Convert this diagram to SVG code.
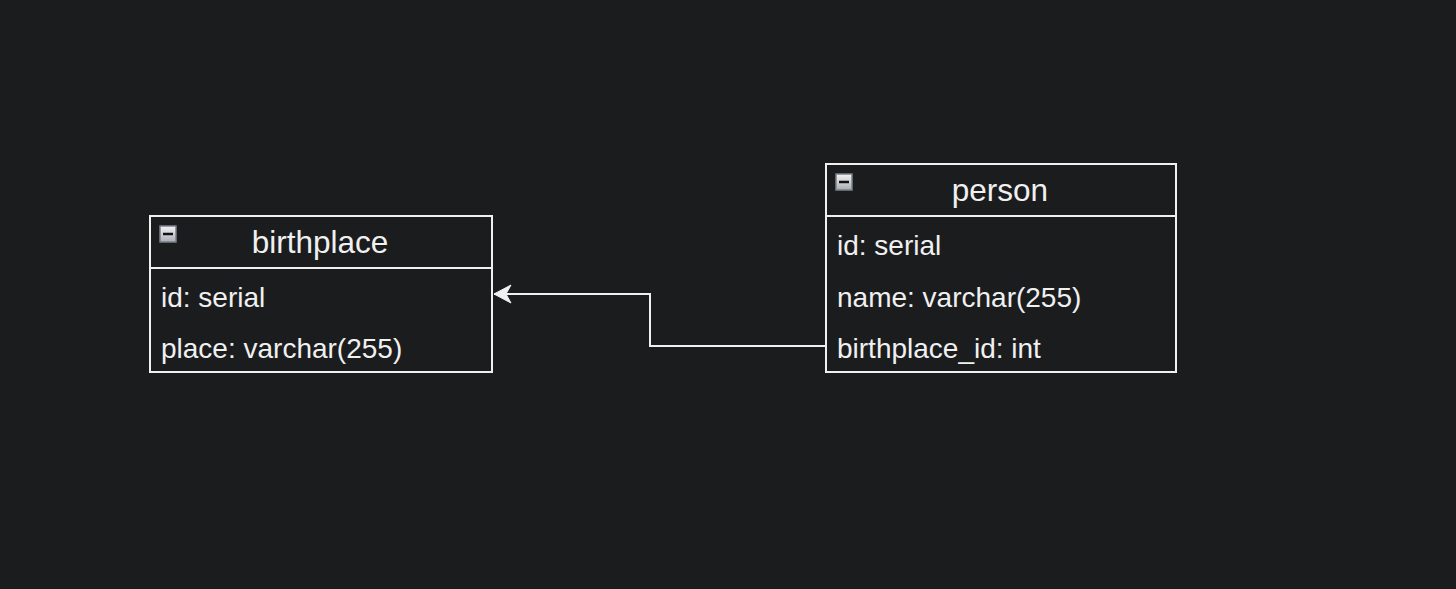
<svg xmlns="http://www.w3.org/2000/svg" width="1456" height="589" viewBox="0 0 1456 589">
<defs>
<linearGradient id="ig" x1="0" y1="0" x2="0" y2="1">
<stop offset="0" stop-color="#f4f4f4"/>
<stop offset="1" stop-color="#a8acb4"/>
</linearGradient>
<marker id="arr" markerUnits="userSpaceOnUse" markerWidth="20" markerHeight="20" viewBox="0 0 20 20" refX="19" refY="10" orient="auto">
<path d="M19,10 L2,1 L7,10 L2,19 Z" fill="#f0f0f0" stroke="#f0f0f0" stroke-width="1"/>
</marker>
</defs>
<style>
.box{fill:#1b1c1e;stroke:#f0f0f0;stroke-width:2}
.sep{stroke:#f0f0f0;stroke-width:2}
.title{font-family:"Liberation Sans",Arial,sans-serif;font-size:31.5px;fill:#f0f0f0;text-anchor:middle}
.row{font-family:"Liberation Sans",Arial,sans-serif;font-size:28px;fill:#f0f0f0}
.icon{fill:url(#ig);stroke:#7a808a;stroke-width:1.5}
.dash{stroke:#111;stroke-width:2.5}
.edge{fill:none;stroke:#f0f0f0;stroke-width:2}
</style>
<rect width="1456" height="589" fill="#1b1c1e"/>
<g id="birthplace">
<rect class="box" x="150" y="216" width="342" height="156"/>
<line class="sep" x1="150" y1="268" x2="492" y2="268"/>
<rect class="icon" x="160" y="226" width="16" height="16"/>
<line class="dash" x1="163" y1="234" x2="173" y2="234"/>
<text class="title" x="320" y="253">birthplace</text>
<text class="row" x="161" y="307">id: serial</text>
<text class="row" x="161" y="358">place: varchar(255)</text>
</g>
<g id="person">
<rect class="box" x="826" y="164" width="350" height="208"/>
<line class="sep" x1="826" y1="216" x2="1176" y2="216"/>
<rect class="icon" x="836" y="174" width="16" height="16"/>
<line class="dash" x1="839" y1="182" x2="849" y2="182"/>
<text class="title" x="1000" y="201">person</text>
<text class="row" x="837" y="255">id: serial</text>
<text class="row" x="837" y="307">name: varchar(255)</text>
<text class="row" x="837" y="358">birthplace_id: int</text>
</g>
<g id="connectors">
<path class="edge" d="M826,346 L650,346 L650,294 L494,294" marker-end="url(#arr)"/>
</g>
</svg>
